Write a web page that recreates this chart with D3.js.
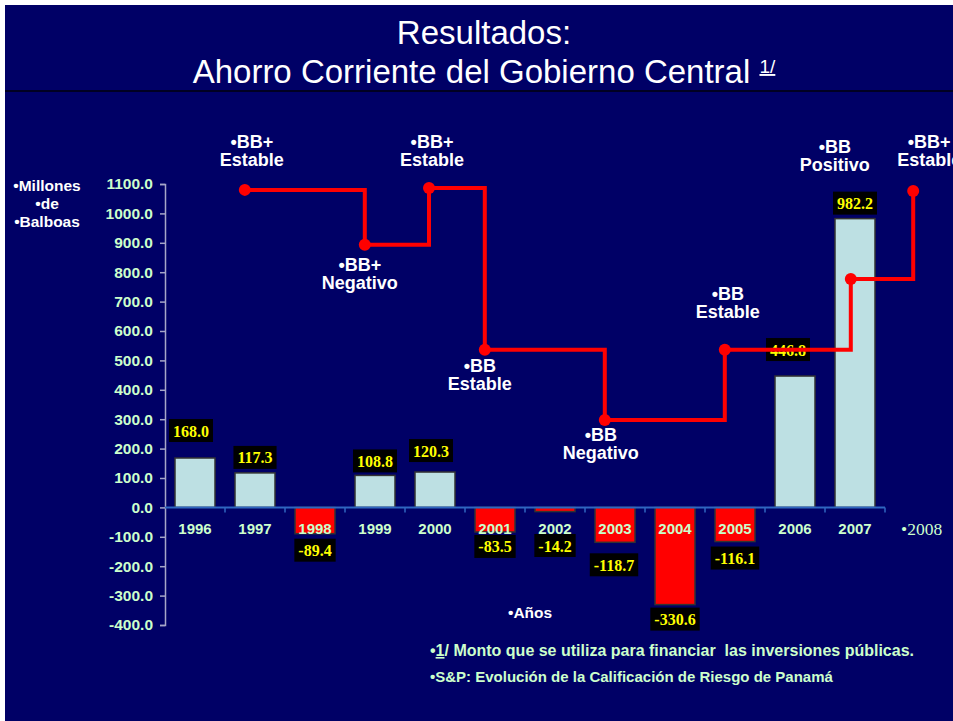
<!DOCTYPE html>
<html>
<head>
<meta charset="utf-8">
<script src="https://cdn.jsdelivr.net/npm/d3@7"></script>
<style>
  body { margin: 0; background: #ffffff; }
  svg { display: block; }
</style>
</head>
<body>
<svg id="chart"></svg>
<script>
// Data
var years = ['1996', '1997', '1998', '1999', '2000', '2001', '2002', '2003', '2004', '2005', '2006', '2007'];
var savings = [168.0, 117.3, -89.4, 108.8, 120.3, -83.5, -14.2, -118.7, -330.6, -116.1, 446.8, 982.2];
var yTicks = [-400, -300, -200, -100, 0, 100, 200, 300, 400, 500, 600, 700, 800, 900, 1000, 1100];

// S&P rating changes (date as fractional year, level drawn on the left axis)
var ratingDates = [1996.83, 1998.83, 1999.9, 2000.83, 2002.83, 2004.83, 2006.93, 2007.97];
var ratingLevels = [1080, 893, 1086, 536, 297, 536, 777, 1076];
var ratingGrades = ['BB+', 'BB+', 'BB+', 'BB', 'BB', 'BB', 'BB', 'BB+'];
var ratingOutlooks = ['Estable', 'Negativo', 'Estable', 'Estable', 'Negativo', 'Estable', 'Positivo', 'Estable'];

// layout tweaks (label placement, like the hand-placed boxes on the slide)
var ratingLabelOffsets = [[7, -42], [-5, 26], [3, -40], [-5, 22], [-4, 21], [3, -50], [-16, -126], [16, -43]];
var valueLabelNudge = [[-4, -10], [0, 2], [0, 0], [0, 3], [-4, -4], [0, -2], [0, 0], [-1, 6], [0, -2], [0, 0], [-7, -9], [0, 2]];

var width = 953;
var height = 721;
var mint = '#ccffcc';
var sans = 'Liberation Sans, Arial, sans-serif';
var serif = 'Liberation Serif, Times New Roman, serif';
var fmt = function(v) { return d3.format('.1f')(v).replace('\u2212', '-'); };

var svg = d3.select('#chart')
  .attr('width', width)
  .attr('height', height);

// slide background
svg.append('rect')
  .attr('x', 5).attr('y', 5)
  .attr('width', width - 5).attr('height', height - 5)
  .attr('fill', '#000066');

// title
svg.append('text')
  .attr('x', 484).attr('y', 44)
  .attr('text-anchor', 'middle')
  .attr('fill', '#ffffff')
  .style('font-family', sans)
  .style('font-size', '33px')
  .text('Resultados:');

var t2 = svg.append('text')
  .attr('x', 484).attr('y', 83)
  .attr('text-anchor', 'middle')
  .attr('fill', '#ffffff')
  .style('font-family', sans)
  .style('font-size', '33px');
t2.append('tspan').text('Ahorro Corriente del Gobierno Central ');
t2.append('tspan')
  .attr('dy', -10)
  .style('font-size', '19px')
  .style('text-decoration', 'underline')
  .text('1/');

svg.append('line')
  .attr('x1', 5).attr('x2', width)
  .attr('y1', 91).attr('y2', 91)
  .attr('stroke', '#000022')
  .attr('stroke-width', 2);

// scales
var x = d3.scaleBand()
  .domain(years)
  .range([165, 885])
  .paddingInner(1 / 3)
  .paddingOuter(1 / 6);

var y = d3.scaleLinear()
  .domain([-400, 1100])
  .range([625, 184]);

var xTime = d3.scaleLinear()
  .domain([1996, 2007])
  .range([x('1996') + x.bandwidth() / 2, x('2007') + x.bandwidth() / 2]);

// y axis
var yAxis = svg.append('g')
  .attr('transform', 'translate(165,0)')
  .call(d3.axisLeft(y).tickValues(yTicks).tickSize(5).tickPadding(7).tickFormat(fmt));
yAxis.select('.domain').attr('stroke', '#a6a6c8').attr('stroke-width', 1.5);
yAxis.selectAll('.tick line').attr('stroke', '#a6a6c8').attr('stroke-width', 1.5);
yAxis.selectAll('.tick text')
  .attr('fill', mint)
  .style('font-family', sans)
  .style('font-size', '15.5px')
  .style('font-weight', 'bold');

// unit label
var unit = svg.append('text')
  .attr('text-anchor', 'middle')
  .attr('fill', '#ffffff')
  .style('font-family', sans)
  .style('font-size', '15.5px')
  .style('font-weight', 'bold');
['•Millones', '•de', '•Balboas'].forEach(function(s, i) {
  unit.append('tspan').attr('x', 47).attr('y', 191 + i * 18).text(s);
});

// bars
var rows = years.map(function(yr, i) { return { year: yr, value: savings[i], i: i }; });

svg.append('g').selectAll('rect')
  .data(rows)
  .enter().append('rect')
  .attr('x', function(d) { return x(d.year); })
  .attr('y', function(d) { return y(Math.max(0, d.value)); })
  .attr('width', x.bandwidth())
  .attr('height', function(d) { return Math.abs(y(d.value) - y(0)); })
  .attr('fill', function(d) { return d.value < 0 ? '#ff0000' : '#bde0e3'; })
  .attr('stroke', '#333333')
  .attr('stroke-width', 1.5);

// zero line with category ticks
svg.append('line')
  .attr('x1', 165).attr('x2', 885)
  .attr('y1', y(0)).attr('y2', y(0))
  .attr('stroke', '#2f66c0')
  .attr('stroke-width', 2);

svg.append('g').selectAll('line')
  .data(years)
  .enter().append('line')
  .attr('x1', function(d) { return x(d) + x.bandwidth() + x.step() * x.paddingInner() / 2; })
  .attr('x2', function(d) { return x(d) + x.bandwidth() + x.step() * x.paddingInner() / 2; })
  .attr('y1', y(0)).attr('y2', y(0) + 5)
  .attr('stroke', '#2f66c0')
  .attr('stroke-width', 1.5);

// year labels
svg.append('g').selectAll('text')
  .data(years)
  .enter().append('text')
  .attr('x', function(d) { return x(d) + x.bandwidth() / 2; })
  .attr('y', 534)
  .attr('text-anchor', 'middle')
  .attr('fill', mint)
  .style('font-family', sans)
  .style('font-size', '15px')
  .style('font-weight', 'bold')
  .text(function(d) { return d; });

svg.append('text')
  .attr('x', 901).attr('y', 535)
  .attr('fill', mint)
  .style('font-family', serif)
  .style('font-size', '17.5px')
  .text('•2008');

// value labels: black box, yellow serif text
var boxH = 23;
var vl = svg.append('g').selectAll('g')
  .data(rows)
  .enter().append('g')
  .attr('transform', function(d) {
    var cx = x(d.year) + x.bandwidth() / 2 + valueLabelNudge[d.i][0];
    var top = d.value >= 0 ? y(d.value) - 6 - boxH : Math.max(y(d.value) + 5, 534);
    return 'translate(' + cx + ',' + (top + valueLabelNudge[d.i][1]) + ')';
  });

vl.append('text')
  .attr('x', 0).attr('y', 17.5)
  .attr('text-anchor', 'middle')
  .attr('fill', '#ffff00')
  .style('font-family', serif)
  .style('font-size', '16px')
  .style('font-weight', 'bold')
  .text(function(d) { return fmt(d.value); });

vl.insert('rect', 'text')
  .each(function() {
    var w = this.parentNode.querySelector('text').getBBox().width + 8;
    d3.select(this).attr('x', -w / 2).attr('width', w);
  })
  .attr('y', 0)
  .attr('height', boxH)
  .attr('fill', '#000000');

// rating step line
var ratings = ratingDates.map(function(t, i) {
  return { t: t, level: ratingLevels[i], grade: ratingGrades[i], outlook: ratingOutlooks[i], i: i };
});

var line = d3.line()
  .x(function(d) { return xTime(d.t); })
  .y(function(d) { return y(d.level); })
  .curve(d3.curveStepAfter);

svg.append('path')
  .datum(ratings)
  .attr('d', line)
  .attr('fill', 'none')
  .attr('stroke', '#ff0000')
  .attr('stroke-width', 4);

svg.append('g').selectAll('circle')
  .data(ratings)
  .enter().append('circle')
  .attr('cx', function(d) { return xTime(d.t); })
  .attr('cy', function(d) { return y(d.level); })
  .attr('r', 6)
  .attr('fill', '#ff0000');

// two-line rating labels, one text element per line
var rg = svg.append('g').selectAll('g')
  .data(ratings)
  .enter().append('g')
  .attr('transform', function(d) {
    return 'translate(' + (xTime(d.t) + ratingLabelOffsets[d.i][0]) + ',' + (y(d.level) + ratingLabelOffsets[d.i][1]) + ')';
  });

rg.append('text')
  .attr('y', 0)
  .text(function(d) { return '•' + d.grade; });
rg.append('text')
  .attr('y', 18)
  .text(function(d) { return d.outlook; });
rg.selectAll('text')
  .attr('text-anchor', 'middle')
  .attr('fill', '#ffffff')
  .style('font-family', sans)
  .style('font-size', '18px')
  .style('font-weight', 'bold');

// axis title and notes
svg.append('text')
  .attr('x', 508).attr('y', 618)
  .attr('fill', '#ffffff')
  .style('font-family', sans)
  .style('font-size', '15.5px')
  .style('font-weight', 'bold')
  .text('•Años');

var n1 = svg.append('text')
  .attr('x', 430).attr('y', 656)
  .attr('fill', mint)
  .style('font-family', sans)
  .style('font-size', '16px')
  .style('font-weight', 'bold')
  .style('white-space', 'pre');
n1.append('tspan').text('•');
n1.append('tspan').style('text-decoration', 'underline').text('1');
n1.append('tspan').text('/ Monto que se utiliza para financiar  las inversiones públicas.');

svg.append('text')
  .attr('x', 430).attr('y', 682)
  .attr('fill', mint)
  .style('font-family', sans)
  .style('font-size', '15px')
  .style('font-weight', 'bold')
  .text('•S&P: Evolución de la Calificación de Riesgo de Panamá');
</script>
</body>
</html>
